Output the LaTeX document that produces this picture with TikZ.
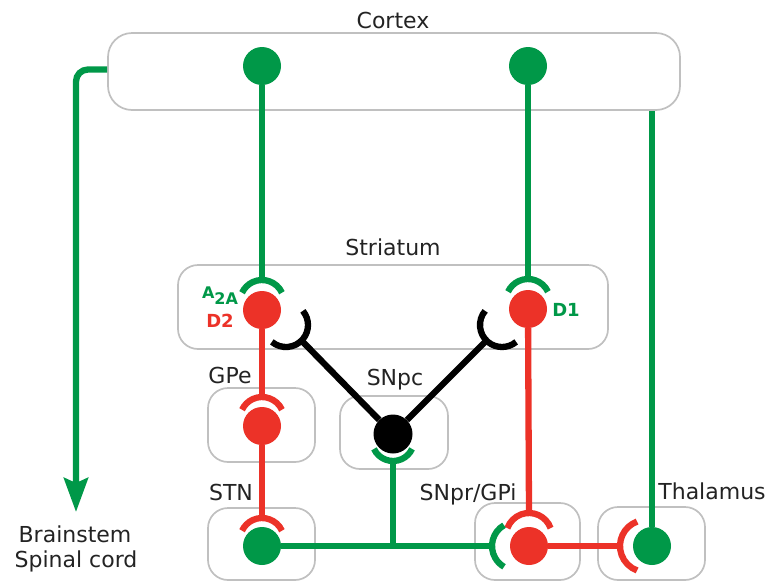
\documentclass[tikz,border=0pt]{standalone}
\usepackage{fontspec}
\setmainfont{DejaVu Sans}
\usetikzlibrary{arrows.meta, positioning}
\definecolor{ctxgreen}{RGB}{0,152,72}
\definecolor{nrnred}{RGB}{236,50,40}
\definecolor{boxgray}{RGB}{192,192,192}
\definecolor{txtgray}{RGB}{35,35,35}

\begin{document}
\begin{tikzpicture}[x=1pt, y=1pt,
  region/.style={rectangle, draw=boxgray, line width=1.7pt, rounded corners=20pt, fill=white},
  title/.style={anchor=base, text=txtgray, font=\fontsize{22}{26}\selectfont, inner sep=0pt},
  cell/.style={circle, inner sep=0pt, minimum size=38pt},
  gline/.style={draw=ctxgreen, line width=6.3pt},
  rline/.style={draw=nrnred, line width=6.3pt},
  kline/.style={draw=black, line width=6.3pt},
  tag/.style={font=\fontsize{18}{18}\selectfont\bfseries, inner sep=0pt}
]
\useasboundingbox (0,0) rectangle (768,-582);

% regions
\node[region, minimum width=572pt, minimum height=77pt, rounded corners=24pt] (ctx) at (394,-71.5) {};
\node[region, minimum width=430pt, minimum height=84pt] (str) at (393,-307) {};
\node[region, minimum width=107pt, minimum height=74pt] (gpe) at (261.5,-425) {};
\node[region, minimum width=108pt, minimum height=73pt] (snc) at (394,-432.5) {};
\node[region, minimum width=107pt, minimum height=72pt] (stn) at (261.5,-544) {};
\node[region, minimum width=105pt, minimum height=77pt] (snr) at (527.5,-541.5) {};
\node[region, minimum width=107pt, minimum height=73pt] (thl) at (651.5,-543.5) {};

\node[title] (ctxT) at (393,-28) {Cortex};
\node[title] (strT) at (393,-255) {Striatum};
\node[title] (gpeT) at (230,-383) {GPe};
\node[title] (sncT) at (395,-385) {SNpc};
\node[title] (stnT) at (231,-500) {STN};
\node[title] (snrT) at (468,-500) {SNpr/GPi};
\node[title] (thlT) at (712,-499) {Thalamus};
\node[title] (bs) at (75,-542) {Brainstem};
\node[title] (sc) at (76,-567) {Spinal cord};

% neurons
\node[cell, fill=ctxgreen] (cxL) at (262,-66) {};
\node[cell, fill=ctxgreen] (cxR) at (528,-66) {};
\node[cell, fill=nrnred] (d2) at (262,-310) {};
\node[cell, fill=nrnred] (d1) at (528,-309) {};
\node[cell, fill=nrnred] (gpeN) at (262,-426) {};
\node[cell, fill=black, minimum size=39pt] (sncN) at (393,-434) {};
\node[cell, fill=ctxgreen] (stnN) at (262,-546) {};
\node[cell, fill=nrnred] (snrN) at (529,-546) {};
\node[cell, fill=ctxgreen] (thlN) at (652,-546) {};

\node[tag, text=ctxgreen] (a2aTag) at (220,-296) {\fontsize{16}{16}\selectfont A\raisebox{-6pt}{2A}};
\node[tag, text=nrnred] (d2Tag) at (220,-321) {D2};
\node[tag, text=ctxgreen] (d1Tag) at (566,-310) {D1};

% receptors
\coordinate (d2In) at (262,-280);
\coordinate (d1In) at (528,-279);
\coordinate (d2Da) at (301.6,-340.6);
\coordinate (d1Da) at (486.4,-340.6);
\coordinate (gpeIn) at (262,-397);
\coordinate (sncIn) at (393,-461);
\coordinate (stnIn) at (262,-518);
\coordinate (snrIn) at (529,-513);
\coordinate (snrGIn) at (492,-546);
\coordinate (thlIn) at (620,-546);
\coordinate (bsTip) at (76,-512);

\draw[gline] (262,-302) ++(25:22) arc[start angle=25, end angle=155, radius=22];
\draw[gline] (528,-301) ++(25:22) arc[start angle=25, end angle=155, radius=22];
\draw[kline] (286,-325) ++(-130:22) arc[start angle=-130, end angle=40, radius=22];
\draw[kline] (502,-325) ++(140:22) arc[start angle=140, end angle=310, radius=22];
\draw[rline] (262,-419) ++(25:22) arc[start angle=25, end angle=155, radius=22];
\draw[gline] (393,-440) ++(205:21) arc[start angle=205, end angle=335, radius=21];
\draw[rline] (262,-540) ++(25:22) arc[start angle=25, end angle=155, radius=22];
\draw[rline] (529,-536) ++(20:23) arc[start angle=20, end angle=160, radius=23];
\draw[gline] (516,-546) ++(120:24) arc[start angle=120, end angle=240, radius=24];
\draw[rline] (646,-546) ++(110:26) arc[start angle=110, end angle=250, radius=26];

% pathways
\draw[gline] (cxL) -- (d2In);
\draw[gline] (cxR) -- (d1In);
\draw[rline] (d2) -- (gpeIn);
\draw[rline] (gpeN) -- (stnIn);
\draw[rline] (d1) -- (snrIn);
\draw[kline] (sncN) -- (d2Da);
\draw[kline] (sncN) -- (d1Da);
\draw[gline] (stnN) -- (snrGIn);
\draw[gline] (sncIn) -- (sncIn |- stnN);
\draw[rline] (snrN) -- (thlIn);
\draw[gline] (thlN) -- (thlN |- ctx.south);
\draw[gline, rounded corners=12pt, -{Stealth[length=34pt, width=24pt, inset=5pt]}] ([yshift=2pt]ctx.west) -| (bsTip);
\end{tikzpicture}
\end{document}
